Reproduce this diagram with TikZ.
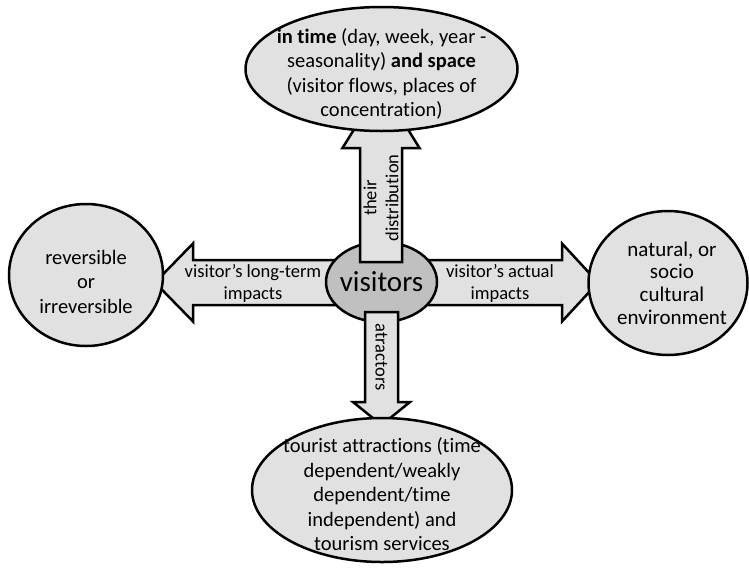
\documentclass[tikz,border=0pt]{standalone}
\usepackage{fontspec}
\setmainfont{Carlito}[Ligatures=NoCommon, RawFeature=-liga]
\usetikzlibrary{shapes.geometric}
\definecolor{lightg}{HTML}{E1E1E1}
\definecolor{midg}{HTML}{C0C0C0}
\tikzset{
  shapeline/.style={draw=black, line width=2.5pt, line join=miter},
  bub/.style={shapeline, ellipse, fill=lightg, inner sep=0pt},
  barrow/.style={shapeline, fill=lightg},
  etext/.style={align=center, font=\fontsize{20.5}{24.5}\selectfont, inner sep=0pt},
  atext/.style={align=center, font=\fontsize{18.5}{22}\selectfont, inner sep=0pt},
}
\begin{document}
\begin{tikzpicture}[x=1pt, y=-1pt]
\useasboundingbox (0,0) rectangle (749,568);
% left and right arrows (under the centre ellipse)
\draw[barrow] (340,260) -- (193,260) -- (193,243.5) -- (155,282.5) -- (193,321.5) -- (193,305) -- (340,305) -- cycle;
\draw[barrow] (420,260) -- (562,260) -- (562,243.5) -- (598,282.5) -- (562,321.5) -- (562,305) -- (420,305) -- cycle;
% centre
\node[shapeline, ellipse, fill=midg, inner sep=0pt, minimum width=111pt, minimum height=80pt] (vis) at (381.5,282) {};
% up and down arrows (over the centre ellipse)
\draw[barrow] (360,262) -- (360,148) -- (342.5,148) -- (381,86) -- (419.5,148) -- (402,148) -- (402,262) -- cycle;
\draw[barrow] (365,312) -- (365,402) -- (353,402) -- (381.5,425) -- (410,402) -- (398,402) -- (398,312) -- cycle;
% outer bubbles
\node[bub, minimum width=272pt, minimum height=124pt] (top) at (381.5,69) {};
\node[bub, minimum width=154pt, minimum height=142pt] (left) at (86,275) {};
\node[bub, minimum width=159pt, minimum height=144pt] (right) at (668,283) {};
\node[bub, minimum width=260pt, minimum height=144pt] (bot) at (382,490) {};
% texts
\node[font=\fontsize{29}{34}\selectfont, inner sep=0pt] (vist) at (vis) {visitors};
\node[etext] (topt) at (381.5,74) {\textbf{in time} (day, week, year -\\seasonality) \textbf{and space}\\(visitor flows, places of\\concentration)};
\node[etext] (leftt) at (86,281.5) {reversible\\or\\irreversible};
\node[etext, font=\fontsize{21}{22.7}\selectfont] (rightt) at (672,283) {natural, or\\socio\\cultural\\environment};
\node[etext] (bott) at (382,494.5) {tourist attractions (time\\dependent/weakly\\dependent/time\\independent) and\\tourism services};
\node[atext] (lt) at (253,283) {visitor’s long-term\\impacts};
\node[atext] (rt) at (500,283) {visitor’s actual\\impacts};
\node[atext, rotate=90] (ut) at (381,198) {their\\distribution};
\node[atext, rotate=-90] (dt) at (381.5,357) {atractors};
\end{tikzpicture}
\end{document}
